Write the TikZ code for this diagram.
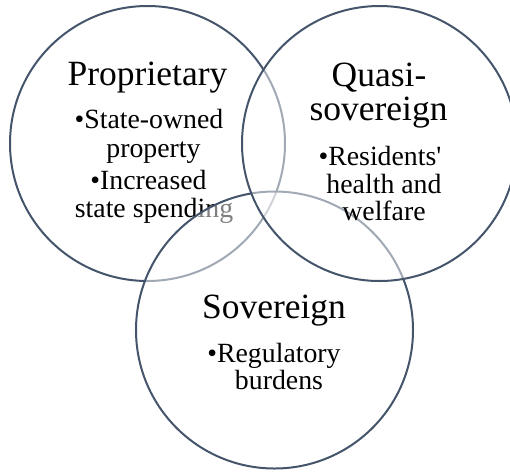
\documentclass[tikz,border=0pt]{standalone}
\usepackage{fontspec}
\setmainfont{Liberation Serif}[Ligatures=TeXOff]
\definecolor{ring}{HTML}{44546A}
\tikzset{
  venn/.style={draw=ring, line width=2pt, fill=white, fill opacity=0.5, draw opacity=1},
  head/.style={anchor=base, inner sep=0pt, font=\fontsize{35.5}{40}\selectfont, text=black},
  body/.style={anchor=base, inner sep=0pt, font=\fontsize{27.8}{30}\selectfont, text=black}
}
\begin{document}
\begin{tikzpicture}[x=1pt,y=-1pt]
\useasboundingbox (0,0) rectangle (510,471);
% left circle
\path[venn] (147.5,143.5) circle (137.5);
\node[head] (p) at (147.5,85) {Proprietary};
\node[body] (p1) at (149,128) {•State-owned};
\node[body] (p2) at (153.5,157) {property};
\node[body] (p3) at (148.5,189) {•Increased};
\node[body] (p4) at (154,217) {state spending};
% bottom circle
\path[venn] (274.5,330) circle (138.5);
\node[head] (s) at (274,318) {Sovereign};
\node[body] (s1) at (274,362) {•Regulatory};
\node[body] (s2) at (279,389) {burdens};
% right circle
\path[venn] (379.5,143.5) circle (137.5);
\node[head] (q) at (379,86) {Quasi-};
\node[head] (q2) at (378.5,120) {sovereign};
\node[body] (q3) at (380,165) {•Residents'};
\node[body] (q4) at (384,193) {health and};
\node[body] (q5) at (384,220) {welfare};
\end{tikzpicture}
\end{document}
